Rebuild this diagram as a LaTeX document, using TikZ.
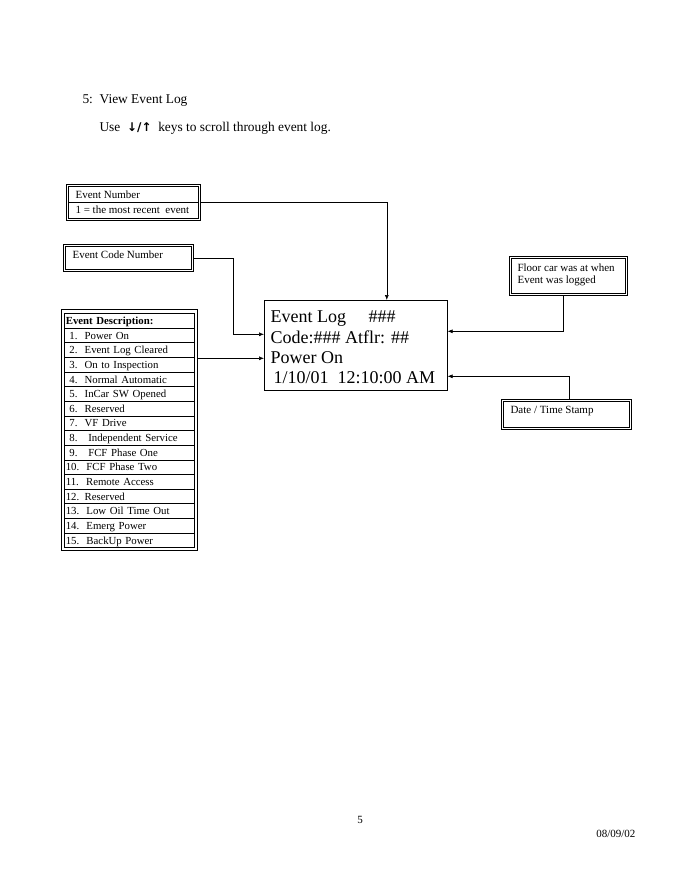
\documentclass[tikz,border=0pt]{standalone}
\usepackage{fontspec}
\setmainfont{Liberation Serif}
\newfontfamily\arrowfont{DejaVu Sans}
\usepackage{tikz}
\usetikzlibrary{arrows.meta,positioning}

\newcommand{\innerframe}[1]{\draw[line width=0.6pt] ([shift={(2.6pt,-2.6pt)}]#1.north west) rectangle ([shift={(-2.6pt,2.6pt)}]#1.south east);}

\begin{document}
\begin{tikzpicture}[
			x=1pt,y=-1pt,
			>={Latex[length=5pt,width=4pt]},
			frame/.style={draw,line width=0.6pt,inner sep=0pt,anchor=north west},
			rowbox/.style={draw,line width=0.6pt,minimum width=130pt,minimum height=14.65pt,inner sep=0pt,anchor=north west,
				text width=127pt,text height=9pt,text depth=1.4pt,align=left,font=\fontsize{10.8}{12}\selectfont},
			small/.style={font=\fontsize{11}{12.5}\selectfont,align=left},
			link/.style={->,line width=0.6pt}
		]
		\useasboundingbox (0,0) rectangle (680,880);

		\node[anchor=west,font=\fontsize{13.4}{15}\selectfont] (title) at (79,101) {5:\ \ View Event Log};
		\node[anchor=west,font=\fontsize{13.4}{15}\selectfont] (hint) at (96,128)
			{Use \ {\arrowfont\bfseries\fontsize{12}{14}\selectfont ↓/↑} \ keys to scroll through event log.};

		% display
		\node[frame,minimum width=183pt,minimum height=90pt] (log) at (264,300) {};
		\node[anchor=west,align=left,font=\fontsize{18}{20.2}\selectfont] (logtxt) at (267,347.5)
			{Event Log \ \ \ \ \#\#\#\\Code:\#\#\# Atflr: \#\#\\Power On\\ \,1/10/01\ \ 12:10:00 AM};

		% event number
		\node[frame,minimum width=134pt,minimum height=36pt] (evnum) at (66,184) {};
		\innerframe{evnum}
		\draw[line width=0.6pt] ([xshift=2.6pt]evnum.west) -- ([xshift=-2.6pt]evnum.east);
		\node[small,anchor=west] (evnumtxt) at (72,202.5) {Event Number\\[2.2pt]1 = the most recent\ \ event};

		% event code
		\node[frame,minimum width=130pt,minimum height=27pt] (evcode) at (63,244) {};
		\innerframe{evcode}
		\node[small,anchor=west] (evcodetxt) at (69,255) {Event Code Number};

		% description table
		\node[frame,minimum width=136pt,minimum height=241pt] (evdesc) at (61,309) {};
		\foreach \t [count=\i from 0] in {\textbf{Event Description:},
			\ 1.\ \ Power On, \ 2.\ \ Event Log Cleared, \ 3.\ \ On to Inspection, \ 4.\ \ Normal Automatic,
			\ 5.\ \ InCar SW Opened, \ 6.\ \ Reserved, \ 7.\ \ VF Drive, \ 8.\ \ \ Independent Service,
			\ 9.\ \ \ FCF Phase One, 10.\ \ FCF Phase Two, 11.\ \ Remote Access, 12. Reserved,
			13.\ \ Low Oil Time Out, 14.\ \ Emerg Power, 15.\ \ BackUp Power}
			\node[rowbox] (row\i) at (64,{313+14.65*\i}) {\t};

		% floor and time stamp
		\node[frame,minimum width=118pt,minimum height=39pt] (floor) at (509,256) {};
		\innerframe{floor}
		\node[small,anchor=west] (floortxt) at (514,275) {Floor car was at when\\Event was logged};
		\node[frame,minimum width=130pt,minimum height=30pt] (stamp) at (501,399) {};
		\innerframe{stamp}
		\node[small,anchor=west] (stamptxt) at (507,411) {Date / Time Stamp};

		% connectors
		\draw[link] (evnum.east) -| ([xshift=31pt]log.north);
		\draw[link] (evcode.east) -- ++(40,0) |- ([yshift=11pt]log.west);
		\coordinate (descpin) at ([yshift=-13pt]log.west);
		\draw[link] (evdesc.east |- descpin) -- (descpin);
		\draw[link] ([xshift=-5pt]floor.south) |- ([yshift=14pt]log.east);
		\draw[link] ([xshift=3pt]stamp.north) |- ([yshift=-31pt]log.east);

		\node[font=\fontsize{11}{13}\selectfont] (pageno) at (360,820) {5};
		\node[anchor=east,font=\fontsize{11}{13}\selectfont] (date) at (639,834) {08/09/02};
	\end{tikzpicture}
\end{document}
